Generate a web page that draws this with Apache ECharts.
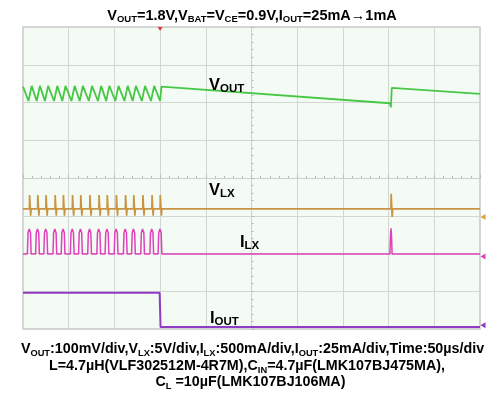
<!DOCTYPE html>
<html>
<head>
<meta charset="utf-8">
<script src="https://cdn.jsdelivr.net/npm/echarts@6/dist/echarts.min.js"></script>
<style>
html,body{margin:0;padding:0;background:#fff;}
#chart{width:492px;height:405px;}
</style>
</head>
<body>
<div id="chart"></div>
<script>
// Time axis in microseconds (50 µs/div, 10 divisions), vertical axis in divisions (8 divisions)
const xTicks = [-250, 250, 50];
const yTicks = [-4, 4, 1];

// V_OUT trace (green) [µs, div]
const vout = [
  [-250,2.42],[-244,2.04],[-240.5,2.44],[-235,2.04],[-231.5,2.44],[-226,2.04],[-222.5,2.44],
  [-216,2.04],[-212.5,2.44],[-207,2.04],[-203.5,2.44],[-197,2.04],[-193.5,2.44],[-188,2.04],
  [-184.5,2.44],[-178,2.04],[-174.5,2.44],[-168,2.04],[-164.5,2.44],[-159,2.04],[-155.5,2.44],
  [-149,2.04],[-145.5,2.44],[-139,2.04],[-135.5,2.44],[-130,2.04],[-126.5,2.44],[-120,2.04],
  [-116.5,2.44],[-110,2.04],[-106.5,2.44],[-100,2.04],[-98.5,2.42],
  [151.5,1.98],[152.5,1.87],[153.5,2.39],[250,2.23]
];

// V_LX trace (orange) [µs, div]
const vlx = [
  [-250,-0.82],
  [-243,-0.82],[-242.8,-0.45],[-241.8,-0.45],[-241.6,-1.0],[-241.1,-0.82],
  [-234,-0.82],[-233.8,-0.45],[-232.8,-0.45],[-232.6,-1.0],[-232.1,-0.82],
  [-225,-0.82],[-224.8,-0.45],[-223.8,-0.45],[-223.6,-1.0],[-223.1,-0.82],
  [-215,-0.82],[-214.8,-0.45],[-213.8,-0.45],[-213.6,-1.0],[-213.1,-0.82],
  [-206,-0.82],[-205.8,-0.45],[-204.8,-0.45],[-204.6,-1.0],[-204.1,-0.82],
  [-196,-0.82],[-195.8,-0.45],[-194.8,-0.45],[-194.6,-1.0],[-194.1,-0.82],
  [-187,-0.82],[-186.8,-0.45],[-185.8,-0.45],[-185.6,-1.0],[-185.1,-0.82],
  [-177,-0.82],[-176.8,-0.45],[-175.8,-0.45],[-175.6,-1.0],[-175.1,-0.82],
  [-167,-0.82],[-166.8,-0.45],[-165.8,-0.45],[-165.6,-1.0],[-165.1,-0.82],
  [-158,-0.82],[-157.8,-0.45],[-156.8,-0.45],[-156.6,-1.0],[-156.1,-0.82],
  [-148,-0.82],[-147.8,-0.45],[-146.8,-0.45],[-146.6,-1.0],[-146.1,-0.82],
  [-138,-0.82],[-137.8,-0.45],[-136.8,-0.45],[-136.6,-1.0],[-136.1,-0.82],
  [-129,-0.82],[-128.8,-0.45],[-127.8,-0.45],[-127.6,-1.0],[-127.1,-0.82],
  [-119,-0.82],[-118.8,-0.45],[-117.8,-0.45],[-117.6,-1.0],[-117.1,-0.82],
  [-109,-0.82],[-108.8,-0.45],[-107.8,-0.45],[-107.6,-1.0],[-107.1,-0.82],
  [-100,-0.82],[-99.8,-0.45],[-98.8,-0.45],[-98.6,-1.0],[-98.1,-0.82],
  [152.5,-0.82],[152.8,-0.42],[153.6,-0.42],[153.9,-1.03],[154.5,-0.82],
  [250,-0.82]
];

// I_LX trace (magenta) [µs, div]
const ilx = [
  [-250,-2.01],
  [-245.2,-2.01],[-244.5,-1.45],[-243.2,-1.35],[-241.8,-1.45],[-241.1,-2.01],
  [-236.2,-2.01],[-235.5,-1.45],[-234.2,-1.35],[-232.8,-1.45],[-232.1,-2.01],
  [-227.2,-2.01],[-226.5,-1.45],[-225.2,-1.35],[-223.8,-1.45],[-223.1,-2.01],
  [-217.2,-2.01],[-216.5,-1.45],[-215.2,-1.35],[-213.8,-1.45],[-213.1,-2.01],
  [-208.2,-2.01],[-207.5,-1.45],[-206.2,-1.35],[-204.8,-1.45],[-204.1,-2.01],
  [-198.2,-2.01],[-197.5,-1.45],[-196.2,-1.35],[-194.8,-1.45],[-194.1,-2.01],
  [-189.2,-2.01],[-188.5,-1.45],[-187.2,-1.35],[-185.8,-1.45],[-185.1,-2.01],
  [-179.2,-2.01],[-178.5,-1.45],[-177.2,-1.35],[-175.8,-1.45],[-175.1,-2.01],
  [-169.2,-2.01],[-168.5,-1.45],[-167.2,-1.35],[-165.8,-1.45],[-165.1,-2.01],
  [-160.2,-2.01],[-159.5,-1.45],[-158.2,-1.35],[-156.8,-1.45],[-156.1,-2.01],
  [-150.2,-2.01],[-149.5,-1.45],[-148.2,-1.35],[-146.8,-1.45],[-146.1,-2.01],
  [-140.2,-2.01],[-139.5,-1.45],[-138.2,-1.35],[-136.8,-1.45],[-136.1,-2.01],
  [-131.2,-2.01],[-130.5,-1.45],[-129.2,-1.35],[-127.8,-1.45],[-127.1,-2.01],
  [-121.2,-2.01],[-120.5,-1.45],[-119.2,-1.35],[-117.8,-1.45],[-117.1,-2.01],
  [-111.2,-2.01],[-110.5,-1.45],[-109.2,-1.35],[-107.8,-1.45],[-107.1,-2.01],
  [-102.2,-2.01],[-101.5,-1.45],[-100.2,-1.35],[-98.8,-1.45],[-98.1,-2.01],
  [151.4,-2.01],[152.1,-1.5],[152.7,-1.33],[153.3,-1.6],[153.8,-2.01],
  [250,-2.01]
];

// I_OUT trace (purple) [µs, div]
const iout = [
  [-250,-3.04],[-100.5,-3.04],[-99.5,-3.95],[250,-3.95]
];

// Trigger position and channel ground markers
const triggerTime = [-100];
const groundLevels = {vlx: -1.03, ilx: -2.08, iout: -3.9};

// Texts
const titleText = '{b|V}{s|OUT}{b|=1.8V,V}{s|BAT}{b|=V}{s|CE}{b|=0.9V,I}{s|OUT}{b|=25mA→1mA}';
const footLines = [
  '{b|V}{s|OUT}{b|:100mV/div,V}{s|LX}{b|:5V/div,I}{s|LX}{b|:500mA/div,I}{s|OUT}{b|:25mA/div,Time:50µs/div}',
  '{b|L=4.7µH(VLF302512M-4R7M),C}{s|IN}{b|=4.7µF(LMK107BJ475MA),}',
  '{b|C}{s|L}{b| =10µF(LMK107BJ106MA)}'
];
const traceLabels = ['{b|V}{s|OUT}', '{b|V}{s|LX}', '{b|I}{s|LX}', '{b|I}{s|OUT}'];

const FONT = '"Liberation Sans", Arial, sans-serif';
function richSet(main, sub, mainLH, subLH){
  return {
    b: {fontFamily: FONT, fontWeight: 'bold', fontSize: main, lineHeight: mainLH, fill: '#000', color: '#000'},
    s: {fontFamily: FONT, fontWeight: 'bold', fontSize: sub, lineHeight: subLH, verticalAlign: 'bottom', fill: '#000', color: '#000'}
  };
}
const titleRich = richSet(14.5, 9.5, 17, 10);
const footRich = richSet(14.3, 9.3, 17, 10);
const labRich = richSet(16.5, 11.5, 19, 12);

function txt(text, x, y, align, rich){
  return {type: 'text', x: x, y: y, silent: true, z: 100,
    style: {text: text, rich: rich, align: align, textAlign: align,
            verticalAlign: 'top', textVerticalAlign: 'top', fill: '#000'}};
}

const chart = echarts.init(document.getElementById('chart'), null, {renderer: 'canvas'});

const option = {
  animation: false,
  backgroundColor: '#ffffff',
  graphic: [
    txt(titleText, 252, 7, 'center', titleRich),
    txt(footLines[0], 252.5, 340.5, 'center', footRich),
    txt(footLines[1], 247, 357.5, 'center', footRich),
    txt(footLines[2], 250.5, 374, 'center', footRich),
    txt(traceLabels[0], 209, 76, 'left', labRich),
    txt(traceLabels[1], 209, 181, 'left', labRich),
    txt(traceLabels[2], 240, 233, 'left', labRich),
    txt(traceLabels[3], 210, 309, 'left', labRich)
  ],
  grid: {
    left: 23, top: 27, width: 457, height: 302,
    show: true, backgroundColor: '#f4fbf4', borderColor: '#c6c8c6', borderWidth: 1.5
  },
  xAxis: {
    type: 'value', min: xTicks[0], max: xTicks[1], interval: xTicks[2],
    axisLabel: {show: false},
    axisLine: {show: true, onZero: true, lineStyle: {color: '#cdd1cd', width: 1}},
    axisTick: {show: true, inside: true, length: 3, lineStyle: {color: '#b8bcb8'}},
    minorTick: {show: true, splitNumber: 5, length: 2, lineStyle: {color: '#b8bcb8'}},
    splitLine: {show: true, lineStyle: {color: '#d3d7d3', width: 1}}
  },
  yAxis: {
    type: 'value', min: yTicks[0], max: yTicks[1], interval: yTicks[2],
    axisLabel: {show: false},
    axisLine: {show: true, onZero: true, lineStyle: {color: '#cdd1cd', width: 1}},
    axisTick: {show: true, inside: true, length: 3, lineStyle: {color: '#b8bcb8'}},
    minorTick: {show: true, splitNumber: 5, length: 2, lineStyle: {color: '#b8bcb8'}},
    splitLine: {show: true, lineStyle: {color: '#d3d7d3', width: 1}}
  },
  series: [
    {type: 'line', name: 'IOUT', data: iout, showSymbol: false, z: 3,
     lineStyle: {color: '#8e3cc4', width: 2}, itemStyle: {color: '#8e3cc4'},
     markPoint: {symbol: 'triangle', symbolSize: [6,5], symbolRotate: 90, symbolOffset: [3,0],
       itemStyle: {color: '#8e3cc4'}, label: {show: false},
       data: [{coord: [xTicks[1], groundLevels.iout]}]}},
    {type: 'line', name: 'ILX', data: ilx, showSymbol: false, z: 4,
     lineStyle: {color: '#e040bc', width: 1.5}, itemStyle: {color: '#e040bc'},
     markPoint: {symbol: 'triangle', symbolSize: [6,5], symbolRotate: 90, symbolOffset: [3,0],
       itemStyle: {color: '#e040bc'}, label: {show: false},
       data: [{coord: [xTicks[1], groundLevels.ilx]}]}},
    {type: 'line', name: 'VLX', data: vlx, showSymbol: false, z: 5,
     lineStyle: {color: '#c99442', width: 1.7}, itemStyle: {color: '#c99442'},
     markPoint: {symbol: 'triangle', symbolSize: [6,5], symbolRotate: 90, symbolOffset: [3,0],
       itemStyle: {color: '#e0a040'}, label: {show: false},
       data: [{coord: [xTicks[1], groundLevels.vlx]}]}},
    {type: 'line', name: 'VOUT', data: vout, showSymbol: false, z: 6,
     lineStyle: {color: '#46c846', width: 1.8}, itemStyle: {color: '#46c846'},
     markPoint: {symbol: 'triangle', symbolSize: [5,4], symbolRotate: 180, symbolOffset: [0,2],
       itemStyle: {color: '#e03a3a'}, label: {show: false},
       data: [{coord: [triggerTime[0], yTicks[1]]}]}}
  ]
};
chart.setOption(option);
</script>
</body>
</html>
